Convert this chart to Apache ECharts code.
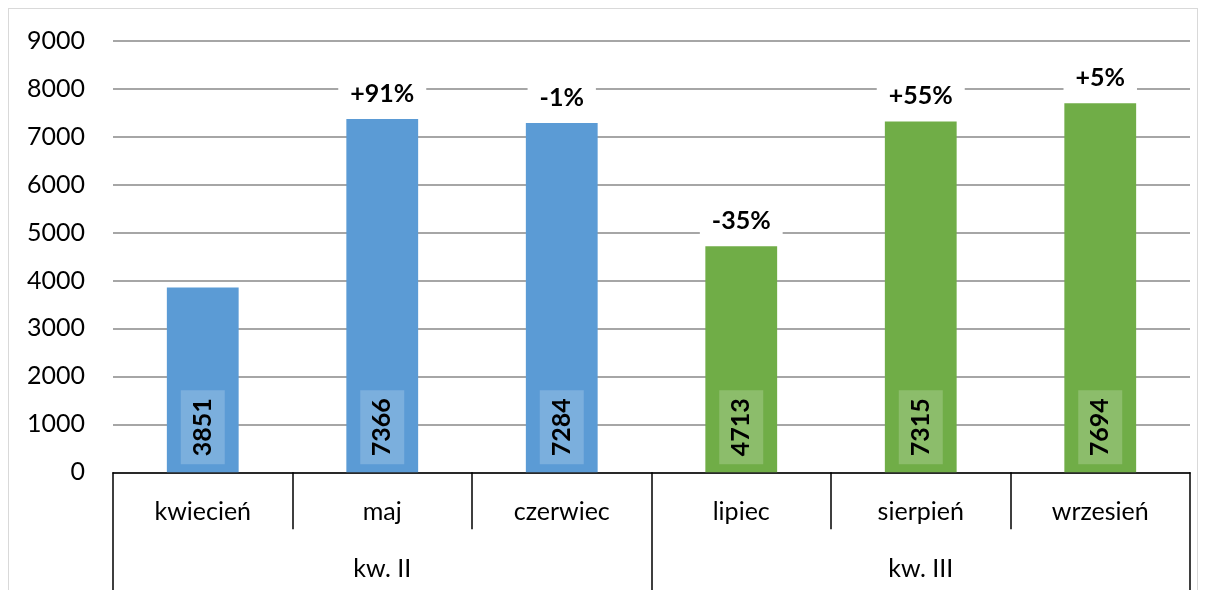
<!DOCTYPE html>
<html><head><meta charset="utf-8">
<script src="https://cdn.jsdelivr.net/npm/echarts@6/dist/echarts.min.js"></script>
<style>
html,body{margin:0;padding:0;background:#fff;}
#frame{position:absolute;left:8px;top:8px;width:1190px;height:600px;border:1px solid #d9d9d9;box-sizing:border-box;}
#c{position:absolute;left:0;top:0;width:1208px;height:590px;}
</style></head>
<body><div id="frame"></div><div id="c"></div>
<script>
const months = ['kwiecień','maj','czerwiec','lipiec','sierpień','wrzesień'];
const quarters = ['kw. II','kw. III'];
const monthQuarter = [0,0,0,1,1,1];
const values = [3851,7366,7284,4713,7315,7694];
const changes = ['','+91%','-1%','-35%','+55%','+5%'];
const quarterColors = ['#5B9BD5','#70AD47'];
const yTicks = {min:0,max:9000,interval:1000};
const FONT = 'Lato';
const FS = 25;

const chart = echarts.init(document.getElementById('c'));
chart.setOption({
  animation:false,
  textStyle:{fontFamily:FONT},
  grid:{left:113,right:18,top:40.7,bottom:117.7,containLabel:false},
  xAxis:[{
    type:'category',data:months,position:'bottom',
    axisLine:{lineStyle:{color:'#000',width:1.5}},
    axisTick:{show:true,interval:0,length:57,lineStyle:{color:'#000',width:1.5}},
    axisLabel:{interval:0,margin:27,fontSize:FS,color:'#000',fontFamily:FONT}
  },{
    type:'category',data:quarters,position:'bottom',offset:0,
    axisLine:{show:false},
    axisTick:{show:true,interval:0,length:125,lineStyle:{color:'#000',width:1.5}},
    axisLabel:{interval:0,margin:84,fontSize:FS,color:'#000',fontFamily:FONT}
  }],
  yAxis:{
    type:'value',min:yTicks.min,max:yTicks.max,interval:yTicks.interval,
    axisLine:{show:false},axisTick:{show:false},
    axisLabel:{margin:28,fontSize:FS,color:'#000',fontFamily:FONT,formatter:v=>String(v)},
    splitLine:{lineStyle:{color:'#898989',width:1.5}}
  },
  series:[{
    type:'bar',xAxisIndex:0,barWidth:'40%',barGap:'-100%',
    data:values.map((v,i)=>({value:v,itemStyle:{color:quarterColors[monthQuarter[i]]}})),
    label:{show:true,position:'insideBottom',rotate:90,align:'left',verticalAlign:'middle',distance:8,
      fontSize:FS,fontWeight:'bold',color:'#000',fontFamily:FONT,lineHeight:28,
      backgroundColor:'rgba(255,255,255,0.2)',padding:[8,8,8,8]}
  },{
    type:'bar',xAxisIndex:0,barWidth:'40%',barGap:'-100%',silent:true,
    data:values.map((v,i)=>({value:v,itemStyle:{color:'rgba(0,0,0,0)'},
      label:{show:changes[i]!=='' }})),
    label:{position:'top',distance:7,formatter:p=>changes[p.dataIndex],
      fontSize:FS,fontWeight:'bold',color:'#000',fontFamily:FONT,
      backgroundColor:'#fff',padding:[4,12,6,12]},
    z:3
  }]
});
</script></body></html>
